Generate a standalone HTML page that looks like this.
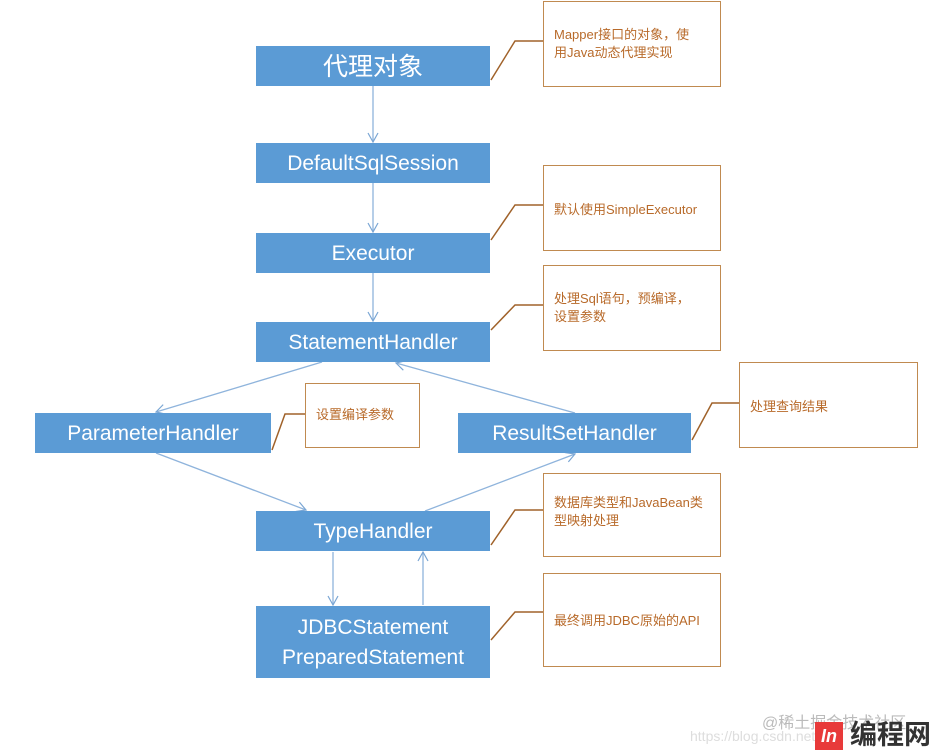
<!DOCTYPE html>
<html><head><meta charset="utf-8"><style>
body{margin:0;width:945px;height:751px;background:#fff;position:relative;overflow:hidden;font-family:"Liberation Sans","Noto Sans CJK SC",sans-serif}
.b{position:absolute;background:#5b9bd5;color:#fff;display:flex;align-items:center;justify-content:center;text-align:center;font-size:21px;line-height:30px;padding-top:2px;box-sizing:border-box}
.n{position:absolute;border:1.5px solid #c08a50;box-sizing:border-box;color:#b86a2a;font-size:13px;line-height:18px;padding:24px 4px 0 10px;white-space:nowrap}
svg{position:absolute;left:0;top:0}
</style></head><body>
<svg width="945" height="751">
<defs><marker id="a" markerWidth="12" markerHeight="12" refX="10" refY="6" orient="auto" markerUnits="userSpaceOnUse"><path d="M1,1 L10,6 L1,11" fill="none" stroke="#7aa6d4" stroke-width="1.2"/></marker></defs>
<g stroke="#8fb4dc" stroke-width="1.3" fill="none" marker-end="url(#a)">
<line x1="373" y1="86" x2="373" y2="142"/>
<line x1="373" y1="183" x2="373" y2="232"/>
<line x1="373" y1="273" x2="373" y2="321"/>
<line x1="322" y1="362" x2="156" y2="412"/>
<line x1="575" y1="413" x2="396" y2="363"/>
<line x1="156" y1="453" x2="306" y2="510"/>
<line x1="425" y1="511" x2="575" y2="454"/>
<line x1="333" y1="552" x2="333" y2="605"/>
<line x1="423" y1="605" x2="423" y2="552"/>
</g>
<g stroke="#a0622a" stroke-width="1.5" fill="none">
<polyline points="491,80 515,41 543,41"/>
<polyline points="491,240 515,205 543,205"/>
<polyline points="491,330 515,305 543,305"/>
<polyline points="272,450 285,414 305,414"/>
<polyline points="692,440 712,403 739,403"/>
<polyline points="491,545 515,510 543,510"/>
<polyline points="491,640 515,612 543,612"/>
</g>
</svg>
<div class="b" style="left:256px;top:46px;width:234px;height:40px;font-size:25px">代理对象</div>
<div class="b" style="left:256px;top:143px;width:234px;height:40px">DefaultSqlSession</div>
<div class="b" style="left:256px;top:233px;width:234px;height:40px">Executor</div>
<div class="b" style="left:256px;top:322px;width:234px;height:40px">StatementHandler</div>
<div class="b" style="left:35px;top:413px;width:236px;height:40px">ParameterHandler</div>
<div class="b" style="left:458px;top:413px;width:233px;height:40px">ResultSetHandler</div>
<div class="b" style="left:256px;top:511px;width:234px;height:40px">TypeHandler</div>
<div class="b" style="left:256px;top:606px;width:234px;height:72px">JDBCStatement<br>PreparedStatement</div>
<div class="n" style="left:543px;top:1px;width:178px;height:86px">Mapper接口的对象，使<br>用Java动态代理实现</div>
<div class="n" style="left:543px;top:165px;width:178px;height:86px;padding-top:35px">默认使用SimpleExecutor</div>
<div class="n" style="left:543px;top:265px;width:178px;height:86px">处理Sql语句，预编译，<br>设置参数</div>
<div class="n" style="left:305px;top:383px;width:115px;height:65px;padding-top:22px">设置编译参数</div>
<div class="n" style="left:739px;top:362px;width:179px;height:86px;padding-top:35px">处理查询结果</div>
<div class="n" style="left:543px;top:473px;width:178px;height:84px;padding-top:20px">数据库类型和JavaBean类<br>型映射处理</div>
<div class="n" style="left:543px;top:573px;width:178px;height:94px;padding-top:38px">最终调用JDBC原始的API</div>
<div style="position:absolute;left:762px;top:709px;color:#bbb;font-size:16px">@稀土掘金技术社区</div>
<div style="position:absolute;left:690px;top:728px;color:#ddd;font-size:14px">https://blog.csdn.net</div>
<div style="position:absolute;left:815px;top:722px;width:28px;height:28px;background:#e83a3a;color:#fff;font-size:18px;font-weight:bold;text-align:center;line-height:28px;font-style:italic">In</div>
<div style="position:absolute;left:850px;top:720px;color:#333;font-size:27px;font-weight:bold;line-height:30px">编程网</div>
</body></html>
